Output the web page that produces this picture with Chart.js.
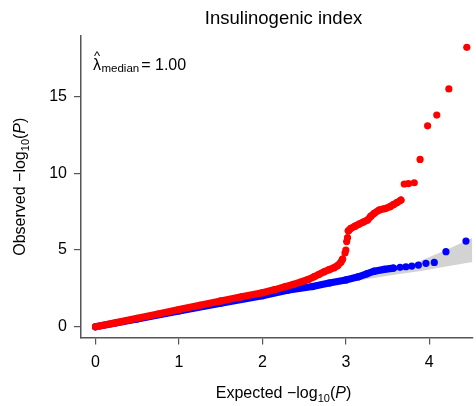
<!DOCTYPE html>
<html>
<head>
<meta charset="utf-8">
<script src="https://cdn.jsdelivr.net/npm/chart.js@4.4.1/dist/chart.umd.min.js"></script>
<style>
html, body { margin: 0; padding: 0; background: #fff; }
#wrap { width: 476px; height: 406px; position: relative; }
</style>
</head>
<body>
<div id="wrap"><canvas id="qq"></canvas></div>
<script>
// QQ plot, points are [expected -log10(P), observed -log10(P)]
var red_lower = [[0, 0], [0.25, 0.27], [0.5, 0.55], [0.75, 0.83], [1.0, 1.12], [1.25, 1.4], [1.5, 1.68],
    [1.75, 1.95], [2.0, 2.22], [2.15, 2.42], [2.27, 2.6], [2.37, 2.76], [2.47, 2.93], [2.55, 3.08],
    [2.62, 3.26], [2.68, 3.42], [2.74, 3.58], [2.8, 3.72], [2.86, 3.85], [2.9, 3.98], [2.94, 4.2], [2.96, 4.4]];
var red_upper = [[3.03, 6.25], [3.06, 6.41], [3.11, 6.55], [3.16, 6.69], [3.21, 6.82], [3.26, 6.95],
    [3.3, 7.2], [3.34, 7.39], [3.4, 7.6], [3.47, 7.7], [3.53, 7.82], [3.57, 7.95], [3.61, 8.08], [3.66, 8.25]];
var red_loose = [[2.99, 4.8], [3.0, 5.0], [3.01, 5.55], [3.02, 5.8], [3.7, 9.3], [3.75, 9.32], [3.82, 9.38],
    [3.89, 10.9], [3.98, 13.09], [4.09, 13.79], [4.235, 15.49], [4.45, 18.2]];
var blue_body = [[0, 0], [0.5, 0.5], [1.0, 1.03], [1.5, 1.53], [2.0, 2.02], [2.3, 2.38], [2.6, 2.62],
    [2.8, 2.85], [3.0, 3.05], [3.15, 3.25], [3.25, 3.45], [3.34, 3.62], [3.46, 3.74], [3.57, 3.82]];
var blue_loose = [[3.65, 3.87], [3.72, 3.91], [3.79, 3.95], [3.87, 4.02], [3.96, 4.13], [4.06, 4.19],
    [4.2, 4.89], [4.44, 5.58]];
// confidence band
var band_x = [2.6, 3.0, 3.3, 3.6, 3.9, 4.2, 4.52];
var band_lo = [2.5, 2.9, 3.15, 3.4, 3.63, 3.93, 4.22];
var band_hi = [2.7, 3.1, 3.45, 3.8, 4.3, 5.0, 5.8];
var x_ticks = [0, 1, 2, 3, 4];
var y_ticks = [0, 5, 10, 15];
var lambda_median = "1.00";

var FAMILY = '"Liberation Sans", Arial, sans-serif';
var R = 3.6;

function pts(list) {
    return list.map(function (p) {
        return {x: p[0], y: p[1]};
    });
}

function band(ys) {
    return band_x.map(function (x, i) {
        return {x: x, y: ys[i]};
    });
}

function series(list, color, joined, order) {
    return {
        data: pts(list),
        showLine: joined,
        borderColor: color,
        borderWidth: joined ? R * 2 : 0,
        borderCapStyle: "round",
        borderJoinStyle: "round",
        pointRadius: R,
        pointBackgroundColor: color,
        pointBorderWidth: 0,
        pointHoverRadius: R,
        clip: false,
        order: order
    };
}

// draws a run of text pieces (for subscripts and italics)
function drawRuns(ctx, runs, x, y, center) {
    var w = 0;
    runs.forEach(function (r) {
        ctx.font = r.f + " " + FAMILY;
        r.w = ctx.measureText(r.t).width;
        w += r.w + (r.gap || 0);
    });
    var cx = center ? x - w / 2 : x;
    runs.forEach(function (r) {
        ctx.font = r.f + " " + FAMILY;
        ctx.fillText(r.t, cx, y + (r.dy || 0));
        cx += r.w + (r.gap || 0);
    });
}

var labels_plugin = {
    id: "labels_plugin",
    afterDraw: function (chart) {
        var ctx = chart.ctx;
        var mid = 283.5;
        ctx.save();
        ctx.fillStyle = "#000";
        ctx.textBaseline = "alphabetic";
        ctx.textAlign = "left";
        drawRuns(ctx, [{t: "Insulinogenic index", f: "18.5px"}], mid, 24, true);
        drawRuns(ctx, [
            {t: "Expected \u2212log", f: "16px"},
            {t: "10", f: "11px", dy: 4},
            {t: "(", f: "16px"},
            {t: "P", f: "italic 16px"},
            {t: ")", f: "16px"}
        ], mid, 397.5, true);
        ctx.save();
        ctx.translate(25, 186.7);
        ctx.rotate(-Math.PI / 2);
        drawRuns(ctx, [
            {t: "Observed \u2212log", f: "16px"},
            {t: "10", f: "11px", dy: 4},
            {t: "(", f: "16px"},
            {t: "P", f: "italic 16px"},
            {t: ")", f: "16px"}
        ], 0, 0, true);
        ctx.restore();
        // lambda hat with median subscript
        ctx.font = "16px " + FAMILY;
        var lw = ctx.measureText("\u03bb").width;
        ctx.fillText("\u03bb", 93, 69.5);
        ctx.font = "13px " + FAMILY;
        ctx.textAlign = "center";
        ctx.fillText("^", 93 + lw / 2, 60);
        ctx.textAlign = "left";
        drawRuns(ctx, [
            {t: "median", f: "11.5px", dy: 2, gap: 2},
            {t: "= " + lambda_median, f: "16px"}
        ], 93 + lw + 0.5, 70, false);
        ctx.restore();
    }
};

var axis_color = "#555";

new Chart(document.getElementById("qq"), {
    type: "scatter",
    data: {
        datasets: [
            series(red_lower, "#ff0000", true, 1),
            series(red_upper, "#ff0000", true, 1),
            series(red_loose, "#ff0000", false, 1),
            series(blue_body, "#0000ff", true, 2),
            series(blue_loose, "#0000ff", false, 2),
            {
                data: band(band_hi),
                showLine: true,
                fill: "+1",
                backgroundColor: "#d3d3d3",
                borderColor: "rgba(0,0,0,0)",
                borderWidth: 0,
                pointRadius: 0,
                pointHoverRadius: 0,
                order: 3
            },
            {
                data: band(band_lo),
                showLine: true,
                borderColor: "rgba(0,0,0,0)",
                borderWidth: 0,
                pointRadius: 0,
                pointHoverRadius: 0,
                order: 3
            }
        ]
    },
    options: {
        responsive: true,
        maintainAspectRatio: false,
        animation: false,
        events: [],
        layout: {padding: {top: 36, left: 0, right: 0, bottom: 0}},
        plugins: {
            legend: {display: false},
            title: {display: false},
            tooltip: {enabled: false}
        },
        scales: {
            x: {
                type: "linear",
                min: -0.1746,
                max: 4.517,
                afterBuildTicks: function (scale) {
                    scale.ticks = x_ticks.map(function (v) {
                        return {value: v};
                    });
                },
                afterFit: function (scale) {
                    scale.height = 68.5;
                },
                ticks: {
                    font: {size: 16, family: FAMILY},
                    color: "#000",
                    padding: 8,
                    maxRotation: 0,
                    autoSkip: false,
                    callback: function (v) {
                        return String(v);
                    }
                },
                grid: {drawOnChartArea: false, drawTicks: true, tickLength: 7, color: axis_color, lineWidth: 1.2},
                border: {display: true, color: axis_color, width: 1.5}
            },
            y: {
                type: "linear",
                min: -0.7,
                max: 18.94,
                afterBuildTicks: function (scale) {
                    scale.ticks = y_ticks.map(function (v) {
                        return {value: v};
                    });
                },
                afterFit: function (scale) {
                    scale.width = 81;
                },
                ticks: {
                    font: {size: 16, family: FAMILY},
                    color: "#000",
                    padding: 7,
                    autoSkip: false,
                    callback: function (v) {
                        return String(v);
                    }
                },
                grid: {drawOnChartArea: false, drawTicks: true, tickLength: 7, color: axis_color, lineWidth: 1.2},
                border: {display: true, color: axis_color, width: 1.5}
            }
        }
    },
    plugins: [labels_plugin]
});
</script>
</body>
</html>
